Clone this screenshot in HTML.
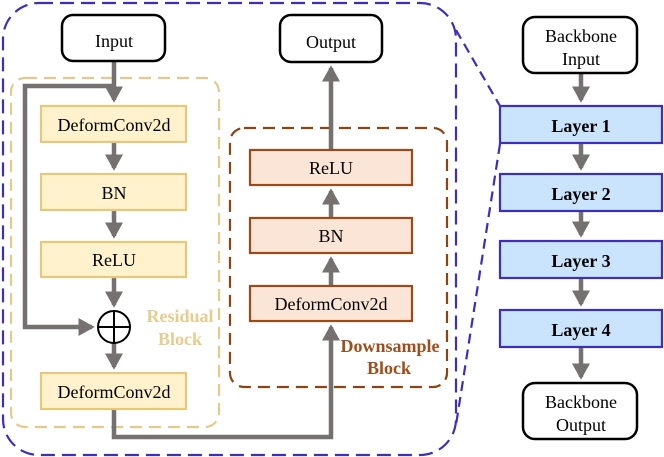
<!DOCTYPE html>
<html><head><meta charset="utf-8"><style>body{margin:0;background:#fff}svg{display:block}text{font-family:"Liberation Serif",serif}</style></head>
<body>
<svg width="664" height="457" viewBox="0 0 664 457" xmlns="http://www.w3.org/2000/svg">
<defs>
<marker id="a" markerWidth="4" markerHeight="4" refX="3" refY="2" orient="auto" markerUnits="strokeWidth"><path d="M0,0 L3.6,2 L0,4 z" fill="#767171"/></marker>
</defs>
<rect x="3" y="3" width="453" height="452" rx="36" fill="none" stroke="#3f2cc0" stroke-width="2.2" stroke-dasharray="14,7"/>
<path d="M456,30 L500,106 M500,144 L456,425" fill="none" stroke="#3f2cc0" stroke-width="2.2" stroke-dasharray="10,6"/>
<rect x="11" y="78" width="208" height="349" rx="14" fill="none" stroke="#e5c98a" stroke-width="2.2" stroke-dasharray="12,7"/>
<rect x="230" y="128" width="217" height="259" rx="14" fill="none" stroke="#8b4513" stroke-width="2.2" stroke-dasharray="12,7"/>
<g stroke="#767171" stroke-width="4.5" fill="none">
<line x1="114" y1="61" x2="114" y2="100" marker-end="url(#a)"/>
<polyline points="114,86 25,86 25,327 92,327" marker-end="url(#a)"/>
<line x1="114" y1="142" x2="114" y2="168" marker-end="url(#a)"/>
<line x1="114" y1="210" x2="114" y2="236" marker-end="url(#a)"/>
<line x1="114" y1="277" x2="114" y2="305" marker-end="url(#a)"/>
<line x1="114" y1="343" x2="114" y2="367" marker-end="url(#a)"/>
<polyline points="114,409 114,437 331,437 331,327" marker-end="url(#a)"/>
<line x1="331" y1="286" x2="331" y2="259" marker-end="url(#a)"/>
<line x1="331" y1="218" x2="331" y2="191" marker-end="url(#a)"/>
<line x1="331" y1="150" x2="331" y2="68" marker-end="url(#a)"/>
<line x1="581" y1="73" x2="581" y2="100" marker-end="url(#a)"/>
<line x1="581" y1="143" x2="581" y2="168" marker-end="url(#a)"/>
<line x1="581" y1="211" x2="581" y2="235" marker-end="url(#a)"/>
<line x1="581" y1="278" x2="581" y2="304" marker-end="url(#a)"/>
<line x1="581" y1="347" x2="581" y2="377" marker-end="url(#a)"/>
</g>
<circle cx="114" cy="327" r="16" fill="#fff" stroke="#000" stroke-width="2"/>
<path d="M98,327 H130 M114,311 V343" stroke="#000" stroke-width="2"/>
<g fill="#fff" stroke="#000" stroke-width="2.5">
<rect x="62" y="15" width="103" height="46" rx="11"/>
<rect x="280" y="15" width="102" height="47" rx="11"/>
<rect x="523" y="17" width="114" height="56" rx="12"/>
<rect x="523" y="383" width="114" height="56" rx="12"/>
</g>
<g fill="#fff2cc" stroke="#e5c97a" stroke-width="2.2">
<rect x="41" y="106" width="145" height="36"/>
<rect x="41" y="174" width="145" height="36"/>
<rect x="41" y="242" width="145" height="35"/>
<rect x="41" y="373" width="145" height="36"/>
</g>
<g fill="#fbe5d6" stroke="#9c4a1a" stroke-width="2.2">
<rect x="250" y="150" width="162" height="35"/>
<rect x="250" y="218" width="162" height="35"/>
<rect x="250" y="286" width="162" height="35"/>
</g>
<g fill="#c9e4fc" stroke="#3f2cc0" stroke-width="2.2">
<rect x="500" y="106" width="162" height="37"/>
<rect x="500" y="174" width="162" height="37"/>
<rect x="500" y="241" width="162" height="37"/>
<rect x="500" y="310" width="162" height="37"/>
</g>
<g font-size="18" text-anchor="middle" fill="#000">
<text x="114" y="47">Input</text>
<text x="331" y="48">Output</text>
<text x="581" y="42">Backbone</text>
<text x="581" y="65">Input</text>
<text x="581" y="408">Backbone</text>
<text x="581" y="431">Output</text>
<text x="114" y="131">DeformConv2d</text>
<text x="114" y="199">BN</text>
<text x="114" y="266">ReLU</text>
<text x="114" y="398">DeformConv2d</text>
<text x="331" y="174">ReLU</text>
<text x="331" y="242">BN</text>
<text x="331" y="310">DeformConv2d</text>
</g>
<g font-size="18" font-weight="bold" text-anchor="middle">
<text x="581" y="132">Layer 1</text>
<text x="581" y="200">Layer 2</text>
<text x="581" y="267">Layer 3</text>
<text x="581" y="336">Layer 4</text>
<text x="180" y="322" fill="#e6cc8f">Residual</text>
<text x="180" y="345" fill="#e6cc8f">Block</text>
<text x="390" y="352" fill="#9c4f1c">Downsample</text>
<text x="389" y="374" fill="#9c4f1c">Block</text>
</g>
</svg>
</body></html>
